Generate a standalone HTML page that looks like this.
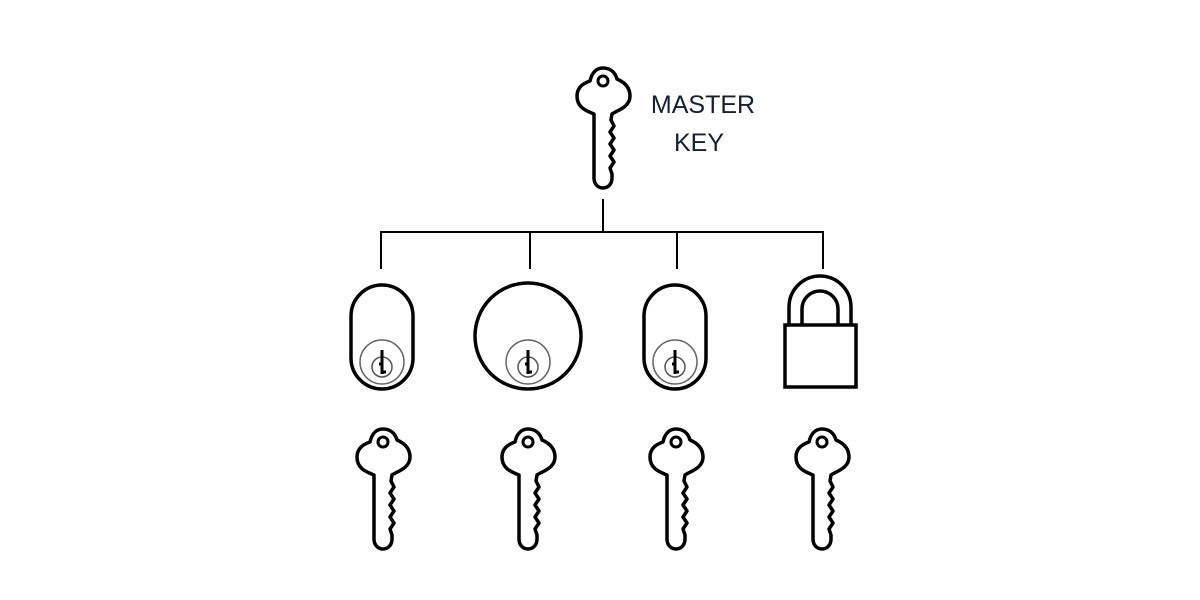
<!DOCTYPE html>
<html><head><meta charset="utf-8"><style>
html,body{margin:0;padding:0;background:#fff;width:1200px;height:600px;overflow:hidden}
</style></head><body>
<svg width="1200" height="600" viewBox="0 0 1200 600" xmlns="http://www.w3.org/2000/svg">
<defs>
<g id="key">
<path d="M-9,112 L-9,48 C-16,45 -26,42 -26,30 C-26,21 -19,17 -13,15 C-11,6 -6,2 0,2 C7,2 12,6 14,13 C21,16 27,21 27,30 C27,41 15,44 9,48 L8,54 L11,60 L7,66 L11,72 L7,78 L11,84 L7,90 L11,96 L7,102 L9,108 L9,112 C9,119 4,122 0,122 C-4,122 -9,119 -9,112 Z" fill="none" stroke="#000" stroke-width="3.5" stroke-linejoin="round"/>
<circle cx="0" cy="15" r="5" fill="none" stroke="#000" stroke-width="3"/>
</g>
<g id="cyl">
<circle cx="0" cy="0" r="22" fill="none" stroke="#666" stroke-width="1.5"/>
<circle cx="0" cy="5" r="10" fill="none" stroke="#555" stroke-width="1.5"/>
<path d="M0,-12 L0,12 M0,2 L-3,2 M0,10 L4,10" stroke="#000" stroke-width="3" fill="none"/>
</g>
</defs>
<use href="#key" x="603" y="66"/>
<text x="703" y="113" font-family="Liberation Sans, sans-serif" font-size="25" fill="#14202e" text-anchor="middle">MASTER</text>
<text x="699" y="151" font-family="Liberation Sans, sans-serif" font-size="25" fill="#14202e" text-anchor="middle">KEY</text>
<g stroke="#000" stroke-width="2" fill="none">
<path d="M603,199 V232 M381,232 H824 M381,231 V269 M530,231 V269 M677,231 V269 M823,231 V269"/>
</g>
<g fill="none" stroke="#000" stroke-width="3.5">
<rect x="351" y="285" width="62" height="104" rx="31"/>
<circle cx="528" cy="336" r="53"/>
<rect x="644" y="285" width="62" height="104" rx="31"/>
<path d="M789,325 V307 A31,31 0 0 1 851,307 V325"/>
<path d="M802,325 V309 A18,18 0 0 1 838,309 V325"/>
<rect x="785" y="325" width="71" height="62"/>
</g>
<use href="#cyl" x="382" y="362"/>
<use href="#cyl" x="528" y="362"/>
<use href="#cyl" x="675" y="362"/>
<use href="#key" x="383" y="427"/>
<use href="#key" x="528" y="427"/>
<use href="#key" x="676" y="427"/>
<use href="#key" x="822" y="427"/>
</svg>
</body></html>
